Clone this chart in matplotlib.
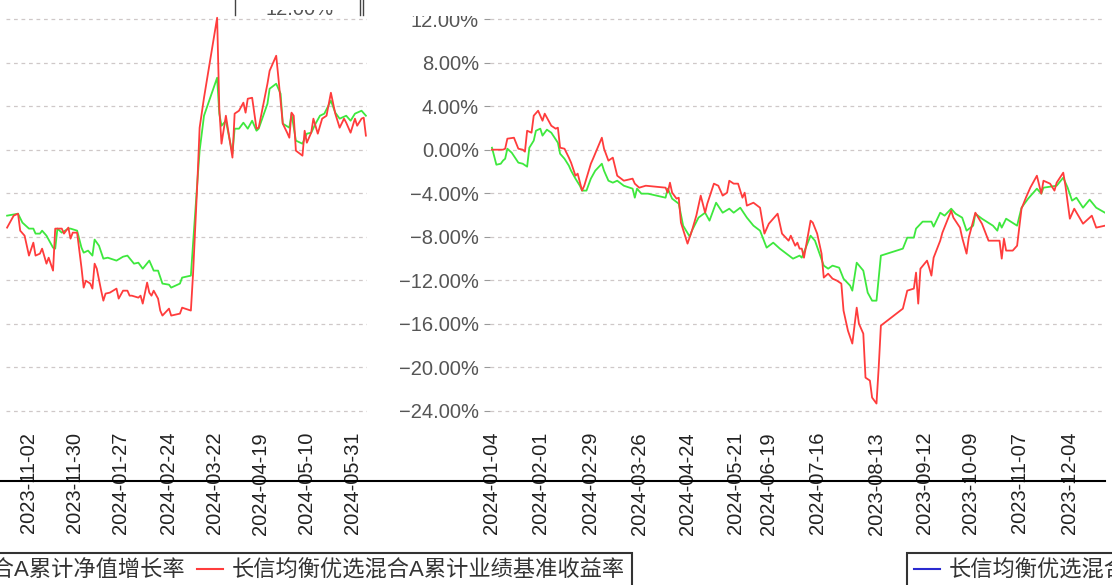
import matplotlib.pyplot as plt
from matplotlib.lines import Line2D
from matplotlib.patches import Rectangle
from matplotlib.ticker import FuncFormatter

plt.rcParams['font.family'] = ['Liberation Sans', 'Noto Sans CJK SC']

# ---- data (cumulative return, %) ----
NAV_LABEL = '长信均衡优选混合A累计净值增长率'
BM_LABEL = '长信均衡优选混合A累计业绩基准收益率'

# left panel
left_red_days = [0, 3, 5, 6, 8, 10, 12, 13, 15, 16, 18, 19, 21, 22, 25, 26, 28, 29, 30, 32,
                 34, 35, 36, 38, 39, 40, 41, 43, 44, 45, 47, 50, 51, 53, 55, 56, 57, 60, 61, 62,
                 64, 65, 66, 67, 69, 70, 71, 74, 75, 79, 80, 84, 85, 87, 88, 90, 96, 97, 98, 100,
                 103, 104, 106, 108, 109, 110, 112, 114, 115, 119, 120, 123, 124, 126, 128, 129, 130, 131, 132, 135,
                 136, 137, 139, 140, 142, 144, 146, 148, 150, 152, 154, 155, 157, 159, 160, 162, 163, 164]
left_red_vals = [-7.16, -6.06, -5.88, -7.44, -7.90, -9.73, -8.54, -9.73, -9.55, -9.09, -10.47, -9.92, -11.11, -7.25, -7.25, -7.71, -7.16, -8.17, -7.62, -7.62,
                 -10.84, -12.67, -12.03, -12.30, -12.76, -10.47, -10.93, -12.95, -13.87, -13.22, -13.13, -12.76, -13.68, -12.95, -12.95, -13.41, -13.41, -13.59, -13.41, -14.14,
                 -12.21, -13.13, -13.41, -12.95, -13.68, -14.78, -15.24, -14.60, -15.24, -15.06, -14.51, -14.78, -11.39, -2.85, 2.02, 4.77, 12.12, 3.76, 0.55, 3.12,
                 -0.73, 3.31, 3.58, 4.32, 3.40, 4.68, 4.77, 1.93, 2.02, 6.06, 7.25, 8.63, 6.61, 2.39, 1.56, 1.10, 3.40, 3.12, -0.09, -0.55,
                 1.74, 0.64, 1.56, 2.85, 1.47, 2.85, 3.12, 5.23, 3.31, 2.02, 2.85, 2.48, 1.56, 2.85, 2.20, 2.85, 2.94, 1.29]
left_green_days = [0, 5, 7, 10, 12, 13, 15, 16, 18, 21, 22, 23, 25, 28, 29, 32, 34, 35, 37, 39,
                   40, 42, 44, 46, 50, 53, 55, 58, 60, 62, 65, 67, 69, 71, 74, 75, 79, 80, 84, 85,
                   87, 88, 90, 96, 97, 98, 100, 103, 104, 106, 108, 110, 112, 114, 115, 119, 120, 123, 125, 126,
                   129, 130, 132, 135, 137, 139, 141, 143, 145, 148, 150, 152, 155, 157, 159, 162, 164]
left_green_vals = [-6.06, -5.88, -6.70, -7.25, -7.25, -7.71, -7.71, -7.44, -7.90, -9.00, -9.09, -7.25, -7.62, -7.25, -7.25, -7.44, -9.00, -9.46, -9.27, -9.73,
                   -8.26, -8.82, -10.01, -9.92, -10.19, -9.83, -9.73, -10.47, -10.38, -10.93, -10.19, -11.11, -11.11, -12.30, -12.40, -12.67, -12.30, -11.75, -11.57, -8.63,
                   -2.85, -0.09, 3.12, 6.61, 3.31, 2.20, 2.66, -0.37, 1.93, 1.93, 2.48, 1.93, 2.66, 1.74, 1.93, 4.22, 5.60, 6.06, 5.14, 2.39,
                   2.02, 3.31, 0.83, 0.55, 1.47, 1.56, 2.39, 3.12, 3.31, 4.50, 3.40, 2.85, 3.12, 2.66, 3.31, 3.58, 3.12]

# right panel
right_red_days = [0, 1, 5, 6, 7, 10, 12, 14, 15, 16, 18, 19, 21, 23, 24, 27, 29, 30, 31, 33,
                  35, 36, 38, 39, 41, 42, 45, 46, 50, 51, 53, 55, 57, 60, 64, 65, 67, 70, 79, 80,
                  81, 82, 84, 85, 86, 89, 91, 93, 95, 97, 98, 101, 103, 105, 107, 108, 110, 112, 114, 115,
                  116, 119, 122, 124, 126, 130, 132, 135, 136, 138, 139, 140, 141, 142, 145, 146, 148, 150, 151, 153,
                  155, 157, 159, 160, 162, 164, 166, 167, 169, 170, 172, 173, 175, 176, 177, 187, 189, 192, 193, 194,
                  195, 198, 199, 200, 201, 204, 205, 209, 210, 213, 214, 216, 217, 220, 223, 226, 231, 232, 233, 234,
                  237, 239, 241, 243, 245, 248, 250, 251, 254, 256, 257, 260, 261, 263, 265, 269, 273, 275, 279]
right_red_vals = [0.00, 0.00, 0.00, 0.09, 1.01, 1.10, 0.09, 0.00, -0.18, 1.74, 1.56, 3.12, 3.58, 2.66, 3.31, 2.20, 1.93, 2.02, 0.18, 0.09,
                  -0.73, -1.19, -2.39, -2.20, -3.76, -3.31, -1.29, -0.83, 1.10, 0.09, -1.01, -0.73, -2.39, -2.85, -2.66, -3.12, -3.49, -3.31, -3.49, -3.95,
                  -3.03, -3.95, -4.50, -4.41, -6.70, -8.63, -7.44, -6.06, -4.22, -5.79, -4.96, -3.12, -3.31, -4.22, -3.95, -2.85, -3.12, -3.12, -4.41, -3.95,
                  -5.14, -4.87, -5.33, -7.71, -6.80, -5.88, -7.71, -8.36, -7.90, -8.82, -8.54, -9.09, -9.09, -9.92, -6.52, -6.70, -7.71, -9.55, -11.75, -11.39,
                  -11.85, -12.03, -12.30, -14.78, -16.62, -17.81, -14.51, -15.98, -16.90, -20.94, -21.21, -22.77, -23.32, -20.02, -16.16, -14.60, -12.95, -12.76, -11.29, -14.14,
                  -10.93, -10.19, -10.84, -11.57, -9.92, -8.36, -7.62, -5.60, -6.24, -7.16, -8.08, -9.55, -8.08, -5.79, -6.80, -8.36, -8.36, -10.01, -8.17, -9.27,
                  -9.27, -8.82, -5.42, -4.41, -3.49, -2.39, -4.04, -2.85, -3.12, -3.76, -3.03, -2.11, -3.31, -6.34, -5.42, -6.80, -6.06, -7.16, -6.98]
right_green_days = [0, 2, 4, 5, 6, 7, 9, 12, 14, 16, 17, 19, 20, 22, 23, 25, 27, 30, 31, 33,
                    35, 36, 38, 40, 41, 43, 45, 47, 50, 51, 53, 55, 57, 60, 64, 65, 66, 68, 71, 79,
                    80, 82, 85, 87, 90, 91, 94, 97, 99, 102, 105, 108, 110, 113, 116, 119, 122, 125, 128, 131,
                    134, 137, 140, 141, 145, 147, 151, 153, 155, 158, 160, 163, 164, 166, 169, 171, 173, 175, 177, 187,
                    189, 192, 193, 196, 200, 201, 204, 206, 209, 211, 214, 216, 219, 220, 223, 228, 230, 231, 232, 234,
                    239, 241, 244, 248, 250, 251, 257, 260, 262, 264, 266, 269, 272, 275, 279]
right_green_vals = [0.18, -1.38, -1.29, -1.01, -0.83, 0.09, -0.28, -1.19, -1.29, -1.56, 0.18, 0.83, 1.74, 1.93, 1.29, 1.84, 1.56, 0.64, -0.37, -0.83,
                    -1.47, -1.93, -2.66, -3.31, -3.76, -3.76, -2.66, -1.93, -1.29, -1.93, -2.85, -3.03, -2.85, -3.31, -3.58, -4.41, -3.58, -4.04, -4.04, -4.41,
                    -3.58, -4.50, -4.96, -6.98, -7.99, -7.44, -6.24, -5.79, -6.52, -4.87, -5.79, -5.42, -5.79, -5.33, -6.24, -6.98, -7.44, -9.00, -8.54, -9.09,
                    -9.55, -10.01, -9.73, -9.92, -7.90, -8.36, -10.65, -10.93, -10.65, -10.84, -11.85, -12.49, -12.95, -10.38, -11.11, -13.13, -13.87, -13.87, -9.73, -9.09,
                    -8.08, -8.08, -7.25, -6.61, -6.61, -7.07, -5.79, -6.06, -5.42, -5.88, -6.24, -7.44, -6.98, -5.88, -6.34, -6.98, -7.44, -6.70, -7.16, -6.34,
                    -6.98, -5.33, -4.50, -3.58, -4.04, -3.49, -3.31, -2.57, -3.49, -4.68, -4.41, -5.33, -4.59, -5.33, -5.79]

left_tick_days = [10, 31, 52, 74, 95, 116, 137, 158]
left_tick_labels = ['2023-11-02', '2023-11-30', '2024-01-27', '2024-02-24',
                    '2024-03-22', '2024-04-19', '2024-05-10', '2024-05-31']
right_tick_days = [0, 22, 45, 67, 89, 111, 126, 148, 175, 197, 218, 240, 263]
right_tick_labels = ['2024-01-04', '2024-02-01', '2024-02-29', '2024-03-26', '2024-04-24',
                     '2024-05-21', '2024-06-19', '2024-07-16', '2023-08-13', '2023-09-12',
                     '2023-10-09', '2023-11-07', '2023-12-04']
y_ticks = [-24, -20, -16, -12, -8, -4, 0, 4, 8, 12]

RED = '#ff3c3c'
GREEN = '#3ee83e'
BLUE = '#2a2ad0'
W, H = 1112, 585

fig = plt.figure(figsize=(W / 100, H / 100), dpi=100)


def px_box(x0, y0, x1, y1):
    return [x0 / W, 1 - y1 / H, (x1 - x0) / W, (y1 - y0) / H]


def style(ax, xlim, tick_days, tick_labels, show_y):
    ax.set_xlim(*xlim)
    ax.set_ylim(-25.29, 13.29)
    ax.set_yticks(y_ticks)
    ax.grid(axis='y', color='#cfc8c8', linestyle=(0, (3, 3)), linewidth=0.9)
    ax.set_axisbelow(True)
    for s in ax.spines.values():
        s.set_visible(False)
    ax.set_xticks(tick_days)
    ax.set_xticklabels(tick_labels, rotation=90, fontsize=14.5, color='#222222')
    ax.tick_params(axis='x', length=0, pad=5)
    if show_y:
        ax.yaxis.set_major_formatter(FuncFormatter(lambda v, _: f'{v:.2f}%'.replace('-', '\u2212')))
        ax.tick_params(axis='y', length=4, color='#999999', labelsize=14.5, labelcolor='#555555', pad=4)
    else:
        ax.tick_params(axis='y', length=0, labelleft=False)


ax_l = fig.add_axes(px_box(6, 5, 367, 425))
ax_l.plot(left_green_days, left_green_vals, color=GREEN, lw=1.3)
ax_l.plot(left_red_days, left_red_vals, color=RED, lw=1.3)
style(ax_l, (-0.5, 164.5), left_tick_days, left_tick_labels, False)

ax_r = fig.add_axes(px_box(490, 5, 1105, 425))
ax_r.plot(right_green_days, right_green_vals, color=GREEN, lw=1.3)
ax_r.plot(right_red_days, right_red_vals, color=RED, lw=1.3)
style(ax_r, (-0.9, 279), right_tick_days, right_tick_labels, True)

# leftover pieces around the panels
fig.add_artist(Line2D([0, 1105 / W], [1 - 481 / H] * 2, color='black', lw=1.5, transform=fig.transFigure))
for xp in (235, 360, 363):
    fig.add_artist(Line2D([xp / W] * 2, [1, 1 - 15 / H], color='#444444', lw=1, transform=fig.transFigure))
fig.text(300 / W, 1 - 15 / H, '12.00%', fontsize=14.5, color='#555555', ha='center', va='baseline')
fig.add_artist(Rectangle((240 / W, 1 - 10 / H), 115 / W, 10 / H, transform=fig.transFigure,
                         facecolor='white', edgecolor='none', zorder=10))
fig.add_artist(Rectangle((380 / W, 1 - 16 / H), 120 / W, 16 / H, transform=fig.transFigure,
                         facecolor='white', edgecolor='none', zorder=10))

# legends
h_nav = Line2D([], [], color=GREEN, lw=1.5)
h_bm = Line2D([], [], color=RED, lw=1.5)
leg1 = fig.legend([h_nav, h_bm], [NAV_LABEL, BM_LABEL], ncol=2, loc='lower right',
                  bbox_to_anchor=(632 / W, -3 / H), fancybox=False, edgecolor='black', fontsize=16,
                  borderaxespad=0, borderpad=0.3, handlelength=1.2, columnspacing=0.5, handletextpad=0.4)
leg1.get_frame().set_linewidth(1.5)
for t in leg1.get_texts():
    t.set_color('#333333')

h_blue = Line2D([], [], color=BLUE, lw=1.5)
leg2 = fig.legend([h_blue], [NAV_LABEL], loc='lower left', bbox_to_anchor=(907 / W, -3 / H),
                  fancybox=False, edgecolor='black', fontsize=16, borderaxespad=0, borderpad=0.3,
                  handlelength=1.2, handletextpad=0.4)
leg2.get_frame().set_linewidth(1.5)
for t in leg2.get_texts():
    t.set_color('#333333')

fig.savefig('out.png', dpi=100)
